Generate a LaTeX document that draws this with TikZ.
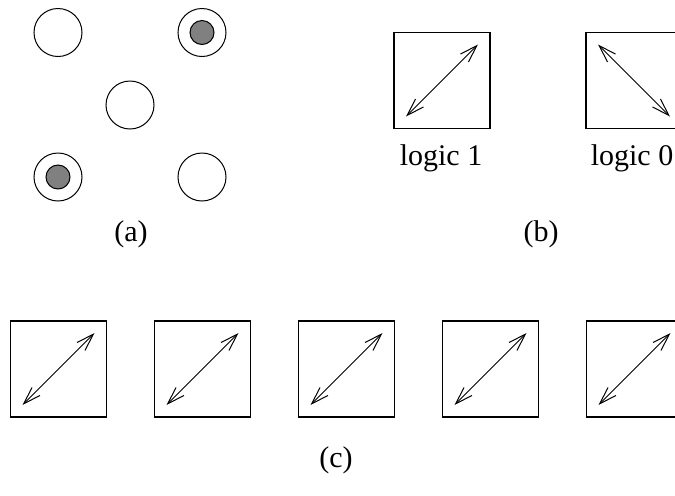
\documentclass[tikz,border=0pt]{standalone}
\usepackage{fontspec}
\setmainfont{Liberation Serif}
\usetikzlibrary{arrows.meta,positioning}

\begin{document}
\begin{tikzpicture}[
  x=0.4pt,y=-0.4pt,
  >={Straight Barb[length=7pt,width=4.5pt]},
  site/.style={draw,circle,inner sep=0pt,minimum size=19.2pt},
  charge/.style={draw,circle,fill=gray,inner sep=0pt,minimum size=9.6pt},
  cell/.style={draw,line width=0.5pt,inner sep=0pt,minimum size=38.4pt},
  lbl/.style={font=\fontsize{12}{14}\selectfont}
]
\clip (0,0) rectangle (675,495);
% (a) five sites, two occupied
\node[site] (s1) at (58,32.5) {};
\node[site] (s2) at (202,32.5) {};
\node[site] (s3) at (130,105) {};
\node[site] (s4) at (58,177) {};
\node[site] (s5) at (202,177) {};
\node[charge] (e2) at (s2) {};
\node[charge] (e4) at (s4) {};
\node[lbl] (capa) at (131,234) {(a)};
% (b) the two logic states
\node[cell] (one) at (442,80.5) {};
\node[cell] (zero) at (634,80.5) {};
\draw[<->] ([shift={(-36,36)}]one.center) -- ([shift={(36,-36)}]one.center);
\draw[<->] ([shift={(-36,-36)}]zero.center) -- ([shift={(36,36)}]zero.center);
\node[lbl] (lone) at (441,158) {logic 1};
\node[lbl] (lzero) at (632,158) {logic 0};
\node[lbl] (capb) at (541,234) {(b)};
% (c) a wire of cells
\foreach \i in {0,...,4}{
  \node[cell] (w\i) at (58.5+144*\i,369) {};
  \draw[<->] ([shift={(-36,36)}]w\i.center) -- ([shift={(36,-36)}]w\i.center);
}
\node[lbl] (capc) at (336,460) {(c)};
\end{tikzpicture}
\end{document}
